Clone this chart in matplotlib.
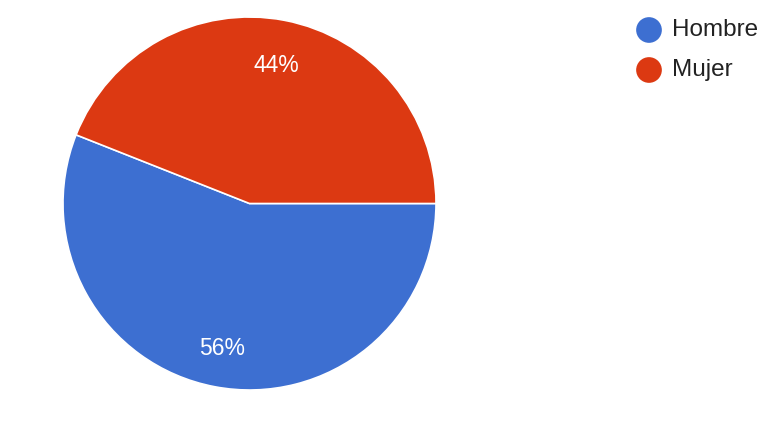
import matplotlib
matplotlib.use("Agg")
import matplotlib.pyplot as plt
from matplotlib.transforms import offset_copy

categories = ["Hombre", "Mujer"]
values = [56, 44]
colors = ["#3D6FD1", "#DC3912"]

plt.rcParams['font.family'] = ['Liberation Sans', 'DejaVu Sans']

W, H = 774, 445
fig = plt.figure(figsize=(W / 100, H / 100), dpi=100)
fig.patch.set_facecolor("white")

cx, cy, r = 249.5, 203.5, 186.5
ax = fig.add_axes([(cx - r) / W, (H - cy - r) / H, 2 * r / W, 2 * r / H])
wedges, texts, autotexts = ax.pie(
    values, colors=colors, startangle=0, counterclock=False, radius=1,
    autopct=lambda p: f"{p:.0f}%", pctdistance=0.775,
    wedgeprops=dict(edgecolor="white", linewidth=1.2),
    textprops=dict(color="white", fontsize=16.5),
)
for t in autotexts:
    t.set_transform(offset_copy(ax.transData, fig=fig, x=0, y=-3.5, units="dots"))
ax.set_xlim(-1, 1)
ax.set_ylim(-1, 1)
ax.set_aspect("equal")
ax.axis("off")

# legend
lax = fig.add_axes([0, 0, 1, 1])
lax.set_xlim(0, W)
lax.set_ylim(H, 0)
lax.axis("off")
for i, (cat, col) in enumerate(zip(categories, colors)):
    y = 30 + 40 * i
    lax.scatter([649], [y], s=(18.5) ** 2, color=col, edgecolors="none")
    lax.text(672, y, cat, fontsize=17.5, color="#222222", va="center", ha="left")

fig.savefig("out.png", dpi=100)
